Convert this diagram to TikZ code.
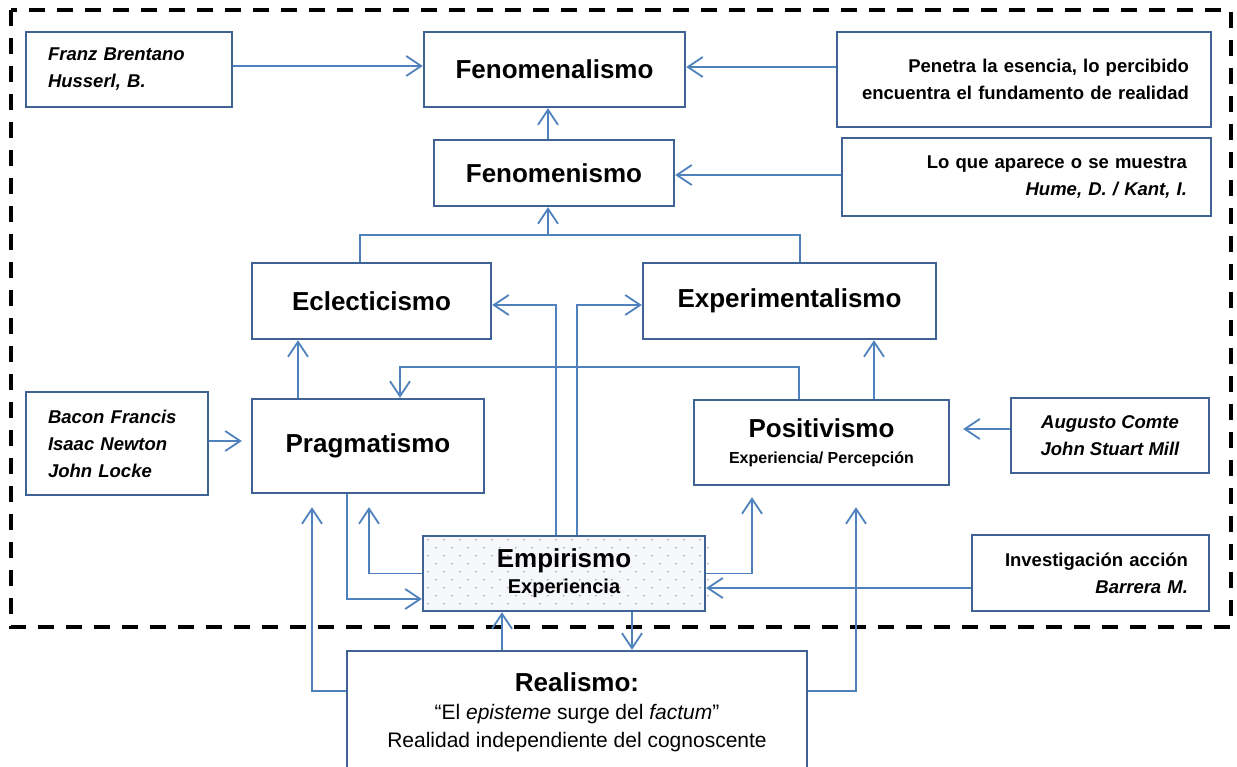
\documentclass[tikz,border=0pt]{standalone}
\usepackage{fontspec}
\setmainfont{Liberation Sans}
\usetikzlibrary{arrows.meta,calc,backgrounds}
\definecolor{boxblue}{HTML}{3F6395}
\definecolor{linkblue}{HTML}{4F81BD}
\definecolor{dotfill}{HTML}{F5F7FA}
\definecolor{dotgray}{HTML}{8C8C8C}

\begin{document}
\begin{tikzpicture}[x=1pt,y=-1pt,
  box/.style={draw=boxblue, line width=2.4pt, fill=white, inner sep=0pt, align=center},
  conn/.style={draw=linkblue, line width=1.8pt, -{Straight Barb[length=15pt,width=20pt]}},
  link/.style={draw=linkblue, line width=1.8pt},
  title/.style={font=\fontsize{26}{26}\selectfont\bfseries},
  note/.style={font=\fontsize{18.5}{27}\selectfont\bfseries},
  names/.style={font=\fontsize{18.5}{27}\selectfont\bfseries\itshape},
]
\useasboundingbox (0,0) rectangle (1237,767);

% outer dashed frame
\draw[black, line width=4.2pt, dash pattern=on 16pt off 12pt] (11,10) rectangle (1231,627);

% boxes
\node[box, names, minimum width=206pt, minimum height=75pt, text width=162pt, align=left]
  (franz) at (129,69.5) {Franz Brentano\\Husserl, B.};
\node[box, title, minimum width=261pt, minimum height=75pt]
  (fenal) at (554.5,69.5) {Fenomenalismo};
\node[box, note, minimum width=374pt, minimum height=95pt, text width=330pt, align=right]
  (penetra) at (1024,79.5) {Penetra la esencia, lo percibido\\encuentra el fundamento de realidad};
\node[box, title, minimum width=240pt, minimum height=66pt]
  (fenis) at (554,173) {Fenomenismo};
\node[box, note, minimum width=369pt, minimum height=78pt, text width=321pt, align=right]
  (loque) at (1026.5,177) {Lo que aparece o se muestra\\\textit{Hume, D. / Kant, I.}};
\node[box, title, minimum width=239pt, minimum height=76pt]
  (eclec) at (371.5,301) {Eclecticismo};
\node[box, title, minimum width=293pt, minimum height=76pt]
  (exper) at (789.5,301) {Experimentalismo};
\node[box, names, minimum width=182pt, minimum height=103pt, text width=138pt, align=left]
  (bacon) at (117,443.5) {Bacon Francis\\Isaac Newton\\John Locke};
\node[box, title, minimum width=232pt, minimum height=94pt]
  (prag) at (368,446) {Pragmatismo};
\node[box, title, minimum width=255pt, minimum height=85pt]
  (posit) at (821.5,442.5) {Positivismo\\{\fontsize{16}{26}\selectfont Experiencia/ Percepción}};
\node[box, names, minimum width=198pt, minimum height=75pt]
  (augusto) at (1110,435.5) {Augusto Comte\\John Stuart Mill};
\node[box, title, fill=none, minimum width=282pt, minimum height=75pt]
  (empir) at (564,573.5) {Empirismo\\{\fontsize{20}{26}\selectfont Experiencia}};
\node[box, note, minimum width=237pt, minimum height=76pt, text width=195pt, align=right]
  (invest) at (1090.5,573) {Investigación acción\\\textit{Barrera M.}};
\node[box, font=\fontsize{21}{28}\selectfont, minimum width=460pt, minimum height=122pt]
  (realis) at (577,712) {{\fontsize{26}{28}\selectfont\bfseries Realismo:}\\“El \textit{episteme} surge del \textit{factum}”\\Realidad independiente del cognoscente};

% dotted fill of the empirismo box
\begin{scope}[on background layer]
  \fill[dotfill] (empir.north west) rectangle (empir.south east);
  \foreach \r in {0,...,8}{
    \pgfmathsetmacro{\off}{mod(\r,2)*8}
    \foreach \c in {0,...,17}{
      \fill[dotgray] ($(empir.north west)+(\c*16+\off+6,\r*8+5)$) circle (0.75pt);
    }
  }
\end{scope}

% elbow points
\coordinate (top) at (548,235);
\coordinate (eL) at (556,305);
\coordinate (eR) at (577,305);
\coordinate (pp) at (400,367);

% top rows
\draw[conn] ([yshift=3.5pt]franz.east) coordinate (s1) -- (s1 -| fenal.west);
\draw[conn] ([yshift=12.5pt]penetra.west) coordinate (s2) -- (s2 -| fenal.east);
\draw[conn] ([xshift=-6pt]fenis.north) coordinate (s3) -- (s3 |- fenal.south);
\draw[conn] ([yshift=2pt]loque.west) coordinate (s4) -- (s4 -| fenis.east);

% eclecticism and experimentalism merge into fenomenismo
\draw[link] ([xshift=-11.5pt]eclec.north) |- (top) -| ([xshift=10.5pt]exper.north);
\draw[conn] (top) -- (top |- fenis.south);

% empirismo rising to the middle row
\draw[conn] (empir.north -| eL) |- (eclec.east |- eL);
\draw[conn] (empir.north -| eR) |- (exper.west |- eR);

% middle row
\draw[conn] ([xshift=-70pt]prag.north) coordinate (s5) -- (s5 |- eclec.south);
\draw[conn] ([xshift=-22.5pt]posit.north) |- (pp) -- (pp |- prag.north);
\draw[conn] ([xshift=52.5pt]posit.north) coordinate (s6) -- (s6 |- exper.south);
\draw[conn, shorten >=9pt] ([yshift=2.5pt]bacon.east) coordinate (s7) -- (s7 -| prag.west);
\draw[conn, shorten >=13pt] ([yshift=6.5pt]augusto.west) coordinate (s8) -- (s8 -| posit.east);

% lower links
\draw[conn] ([xshift=-21pt]prag.south) |- ([yshift=-25.5pt]empir.west);
\draw[conn] (empir.west) -| ([xshift=1pt,yshift=-13pt]prag.south);
\draw[conn] ([yshift=21pt]realis.west) -| ([xshift=-56pt,yshift=-13pt]prag.south);
\draw[conn] ([xshift=-75pt]realis.north) coordinate (s9) -- (s9 |- empir.south);
\draw[conn] ([xshift=68pt]empir.south) coordinate (s10) -- (s10 |- realis.north);
\draw[conn] (empir.east) -| ([xshift=-69.5pt,yshift=-11pt]posit.south);
\draw[conn] ([yshift=-15pt]invest.west) coordinate (s11) -- (s11 -| empir.east);
\draw[conn] ([yshift=21pt]realis.east) -| ([xshift=34.5pt,yshift=-21pt]posit.south);
\end{tikzpicture}
\end{document}
